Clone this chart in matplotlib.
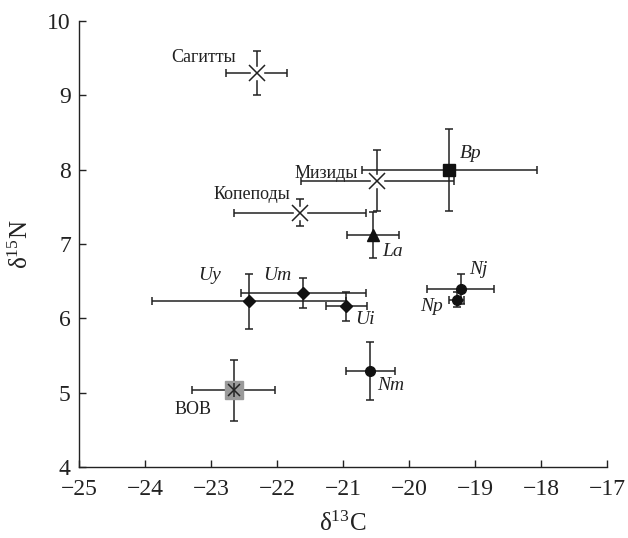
import matplotlib.pyplot as plt

plt.rcParams['font.family'] = ['Liberation Serif', 'DejaVu Serif']
plt.rcParams['mathtext.fontset'] = 'custom'
plt.rcParams['mathtext.rm'] = 'Liberation Serif'
plt.rcParams['mathtext.it'] = 'Liberation Serif:italic'

# group: (x, y, xerr, yerr)
names = ['Сагитты', 'Копеподы', 'Мизиды', 'Bp', 'La', 'Nj', 'Np', 'Uy', 'Um', 'Ui', 'Nm', 'ВОВ']
d13c = [-22.31, -21.65, -20.48, -19.39, -20.55, -19.22, -19.28, -22.42, -21.60, -20.95, -20.59, -22.66]
d15n = [9.30, 7.42, 7.85, 8.00, 7.12, 6.39, 6.25, 6.23, 6.34, 6.16, 5.29, 5.03]
c_err = [0.46, 1.00, 1.16, 1.33, 0.39, 0.51, 0.12, 1.47, 0.94, 0.31, 0.37, 0.63]
n_err = [0.30, 0.18, 0.41, 0.55, 0.31, 0.20, 0.10, 0.37, 0.20, 0.19, 0.39, 0.41]
markers = ['x', 'x', 'x', 's', '^', 'o', 'o', 'D', 'D', 'D', 'o', 's']
msizes = [11, 11, 11, 8, 8, 7, 7, 6, 6, 6, 7, 13]

# label positions (x, y, ha)
label_x = [-22.62, -21.80, -20.78, -19.23, -20.41, -19.09, -19.48, -23.02, -22.00, -20.82, -20.49, -23.27]
label_y = [9.51, 7.67, 7.95, 8.22, 6.90, 6.65, 6.16, 6.58, 6.57, 5.98, 5.10, 4.78]
label_ha = ['right', 'right', 'right', 'left', 'left', 'left', 'right', 'center', 'center', 'left', 'left', 'center']

fig = plt.figure(figsize=(6.28, 5.38), dpi=100)
ax = fig.add_axes([0.126, 0.132, 0.8406, 0.829])

for i in range(len(names)):
    if names[i] == 'ВОВ':
        ax.errorbar(d13c[i], d15n[i], xerr=c_err[i], yerr=n_err[i], fmt='none',
                    ecolor='#222222', elinewidth=1.1, capsize=3, capthick=1.1, zorder=2)
        ax.plot(d13c[i], d15n[i], marker='s', ms=msizes[i], mfc='#9a9a9a', mec='#9a9a9a', zorder=3)
        ax.plot(d13c[i], d15n[i], marker='x', ms=9, mec='#222222', mew=1.1, zorder=4)
        ax.plot(d13c[i], d15n[i], marker='|', ms=10, mec='#222222', mew=1.1, zorder=4)
    elif markers[i] == 'x':
        ax.errorbar(d13c[i], d15n[i], xerr=c_err[i], yerr=n_err[i], fmt='none',
                    ecolor='#222222', elinewidth=1.1, capsize=3, capthick=1.1, zorder=2)
        # white background so bars do not cross the marker
        ax.plot(d13c[i], d15n[i], marker='s', ms=8, mfc='white', mec='white', zorder=3)
        ax.plot(d13c[i], d15n[i], marker='x', ms=msizes[i], mec='#222222', mew=1.1, zorder=4)
    else:
        ax.errorbar(d13c[i], d15n[i], xerr=c_err[i], yerr=n_err[i], fmt=markers[i],
                    ms=msizes[i], color='#111111', ecolor='#222222', elinewidth=1.1,
                    capsize=3, capthick=1.1, zorder=3)
    italic = names[i] not in ('Сагитты', 'Копеподы', 'Мизиды', 'ВОВ')
    ax.text(label_x[i], label_y[i], names[i], ha=label_ha[i], va='center',
            fontsize=14 if italic else 13, style='italic' if italic else 'normal',
            color='#222222')

ax.set_xlim(-25, -17)
ax.set_ylim(4, 10)
ax.set_xticks(range(-25, -16))
ax.set_yticks(range(4, 11))
ax.set_xticklabels(['\u2212%d' % abs(v) for v in range(-25, -16)])
ax.spines['top'].set_visible(False)
ax.spines['right'].set_visible(False)
for s in ['left', 'bottom']:
    ax.spines[s].set_linewidth(1.0)
    ax.spines[s].set_color('#222222')
ax.tick_params(direction='in', length=5, width=1.0, labelsize=17, colors='#222222', pad=6)
ax.tick_params(axis='x', pad=9)
ax.set_xlabel('δ$^{13}$C', fontsize=18, color='#222222', labelpad=8)
ax.set_ylabel('δ$^{15}$N', fontsize=18, color='#222222', labelpad=10)

fig.savefig('out.png', dpi=100)
